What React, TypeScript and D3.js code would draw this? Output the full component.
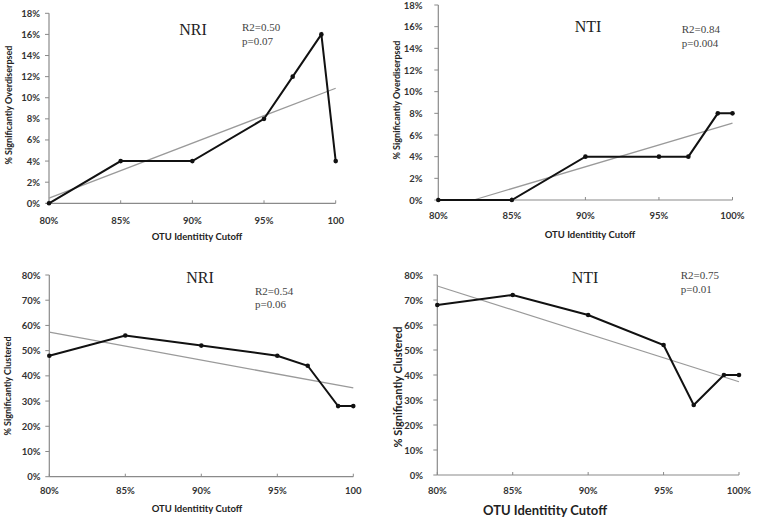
import React, { useEffect, useRef } from "react";
import * as d3 from "d3";

// OTU identity cutoffs (x positions of the points)
const cutoffs = [80, 85, 90, 95, 97, 99, 100];

// % of samples significantly overdispersed / clustered
const nriOver = [0, 4, 4, 8, 12, 16, 4];
const ntiOver = [0, 0, 4, 4, 4, 8, 8];
const nriClust = [48, 56, 52, 48, 44, 28, 28];
const ntiClust = [68, 72, 64, 52, 28, 40, 40];

// trend line end points [cutoff, value]
const nriOverTrend = [[80, 0.5], [100, 10.9]];
const ntiOverTrend = [[82.4, 0], [100, 7.1]];
const nriClustTrend = [[80, 57.3], [100, 35.2]];
const ntiClustTrend = [[80, 75.6], [100, 37.3]];

const xTicks = [80, 85, 90, 95, 100];
const xLabelsA = ["80%", "85%", "90%", "95%", "100"];
const xLabelsB = ["80%", "85%", "90%", "95%", "100%"];
const overTicks = [0, 2, 4, 6, 8, 10, 12, 14, 16, 18];
const clustTicks = [0, 10, 20, 30, 40, 50, 60, 70, 80];

const panels = [
  {
    name: "NRI", values: nriOver, trend: nriOverTrend, yMax: 18, yTicks: overTicks, xLabels: xLabelsA,
    r2: "R2=0.50", p: "p=0.07", yTitle: "% Significantly Overdiserpsed",
    x0: 49, x1: 335.7, y0: 203.3, y1: 13.3,
    title: [193, 35], stat: [242, 30.5, 44.5], yTitleX: 9, yTitleY: 105,
    xLabY: 224, xTitle: [197, 240], tickRight: 40, big: false,
  },
  {
    name: "NTI", values: ntiOver, trend: ntiOverTrend, yMax: 18, yTicks: overTicks, xLabels: xLabelsB,
    r2: "R2=0.84", p: "p=0.004", yTitle: "% Significantly Overdiserpsed",
    x0: 438.3, x1: 732.5, y0: 200, y1: 5,
    title: [588, 32], stat: [681.7, 33, 47], yTitleX: 397, yTitleY: 100,
    xLabY: 219, xTitle: [590, 237.5], tickRight: 422.5, big: false,
  },
  {
    name: "NRI", values: nriClust, trend: nriClustTrend, yMax: 80, yTicks: clustTicks, xLabels: xLabelsA,
    r2: "R2=0.54", p: "p=0.06", yTitle: "% Significantly Clustered",
    x0: 49.3, x1: 353.3, y0: 476.7, y1: 275,
    title: [200, 283], stat: [255, 294.5, 308], yTitleX: 8, yTitleY: 386,
    xLabY: 493.5, xTitle: [197, 511.5], tickRight: 40.5, big: false,
  },
  {
    name: "NTI", values: ntiClust, trend: ntiClustTrend, yMax: 80, yTicks: clustTicks, xLabels: xLabelsB,
    r2: "R2=0.75", p: "p=0.01", yTitle: "% Significantly Clustered",
    x0: 437.3, x1: 739, y0: 475, y1: 275,
    title: [585, 283], stat: [680.7, 279, 293], yTitleX: 398, yTitleY: 387,
    xLabY: 493.5, xTitle: [545, 515], tickRight: 423, big: true,
  },
];

const sans = "Lato, 'Open Sans', sans-serif";
const serif = "'Liberation Serif', 'DejaVu Serif', serif";

export default function App() {
  const ref = useRef<SVGSVGElement>(null);

  useEffect(() => {
    const svg = d3.select(ref.current);
    svg.selectAll("*").remove();

    panels.forEach((pn) => {
      const g = svg.append("g");
      const x = d3.scaleLinear().domain([80, 100]).range([pn.x0, pn.x1]);
      const y = d3.scaleLinear().domain([0, pn.yMax]).range([pn.y0, pn.y1]);

      // axes
      g.append("line")
        .attr("x1", x(80)).attr("x2", x(80))
        .attr("y1", y(0)).attr("y2", y(pn.yMax))
        .attr("stroke", "#8a8a8a").attr("stroke-width", 1.2);
      g.append("line")
        .attr("x1", x(80)).attr("x2", x(100))
        .attr("y1", y(0)).attr("y2", y(0))
        .attr("stroke", "#8a8a8a").attr("stroke-width", 1.2);

      g.selectAll(".ytick")
        .data(pn.yTicks)
        .join("line")
        .attr("x1", x(80) - 4).attr("x2", x(80))
        .attr("y1", (d) => y(d)).attr("y2", (d) => y(d))
        .attr("stroke", "#8a8a8a");
      g.selectAll(".ylab")
        .data(pn.yTicks)
        .join("text")
        .attr("x", pn.tickRight)
        .attr("y", (d) => y(d) + 3.5)
        .attr("text-anchor", "end")
        .attr("font-family", sans)
        .attr("font-weight", "bold")
        .attr("font-size", "9.5px")
        .attr("fill", "#333")
        .text((d) => d + "%");

      g.selectAll(".xtick")
        .data(xTicks)
        .join("line")
        .attr("x1", (d) => x(d)).attr("x2", (d) => x(d))
        .attr("y1", y(0)).attr("y2", y(0) - 3)
        .attr("stroke", "#8a8a8a");
      g.selectAll(".xlab")
        .data(xTicks)
        .join("text")
        .attr("x", (d) => x(d))
        .attr("y", pn.xLabY)
        .attr("text-anchor", "middle")
        .attr("font-family", sans)
        .attr("font-weight", "bold")
        .attr("font-size", "9.5px")
        .attr("fill", "#333")
        .text((d, i) => pn.xLabels[i]);

      // axis titles
      g.append("text")
        .attr("x", pn.xTitle[0]).attr("y", pn.xTitle[1])
        .attr("text-anchor", "middle")
        .attr("font-family", sans)
        .attr("font-weight", "bold")
        .attr("font-size", pn.big ? "13px" : "9.5px")
        .attr("fill", "#222")
        .text("OTU Identitity Cutoff");
      g.append("text")
        .attr("transform", `translate(${pn.yTitleX}, ${pn.yTitleY}) rotate(-90)`)
        .attr("text-anchor", "middle")
        .attr("dy", "0.35em")
        .attr("font-family", sans)
        .attr("font-weight", "bold")
        .attr("font-size", pn.big ? "11px" : "9px")
        .attr("fill", "#222")
        .text(pn.yTitle);

      // trend line
      g.append("line")
        .attr("x1", x(pn.trend[0][0])).attr("y1", y(pn.trend[0][1]))
        .attr("x2", x(pn.trend[1][0])).attr("y2", y(pn.trend[1][1]))
        .attr("stroke", "#9a9a9a").attr("stroke-width", 1.3);

      // data
      const pts = cutoffs.map((c, i) => [c, pn.values[i]]);
      const line = d3.line().x((d) => x(d[0])).y((d) => y(d[1]));
      g.append("path")
        .attr("d", line(pts))
        .attr("fill", "none")
        .attr("stroke", "#111")
        .attr("stroke-width", 2);
      g.selectAll(".dot")
        .data(pts)
        .join("circle")
        .attr("cx", (d) => x(d[0]))
        .attr("cy", (d) => y(d[1]))
        .attr("r", 2.3)
        .attr("fill", "#111");

      // labels
      g.append("text")
        .attr("x", pn.title[0]).attr("y", pn.title[1])
        .attr("text-anchor", "middle")
        .attr("font-family", serif)
        .attr("font-size", "16px")
        .attr("fill", "#222")
        .text(pn.name);
      g.append("text")
        .attr("x", pn.stat[0]).attr("y", pn.stat[1])
        .attr("font-family", serif)
        .attr("font-size", "11px")
        .attr("fill", "#444")
        .text(pn.r2);
      g.append("text")
        .attr("x", pn.stat[0]).attr("y", pn.stat[2])
        .attr("font-family", serif)
        .attr("font-size", "11px")
        .attr("fill", "#444")
        .text(pn.p);
    });
  }, []);

  return (
    <div style={{ position: "absolute", left: 0, top: 0 }}>
      <svg ref={ref} width={757} height={517} style={{ display: "block", background: "#fff" }} />
    </div>
  );
}
